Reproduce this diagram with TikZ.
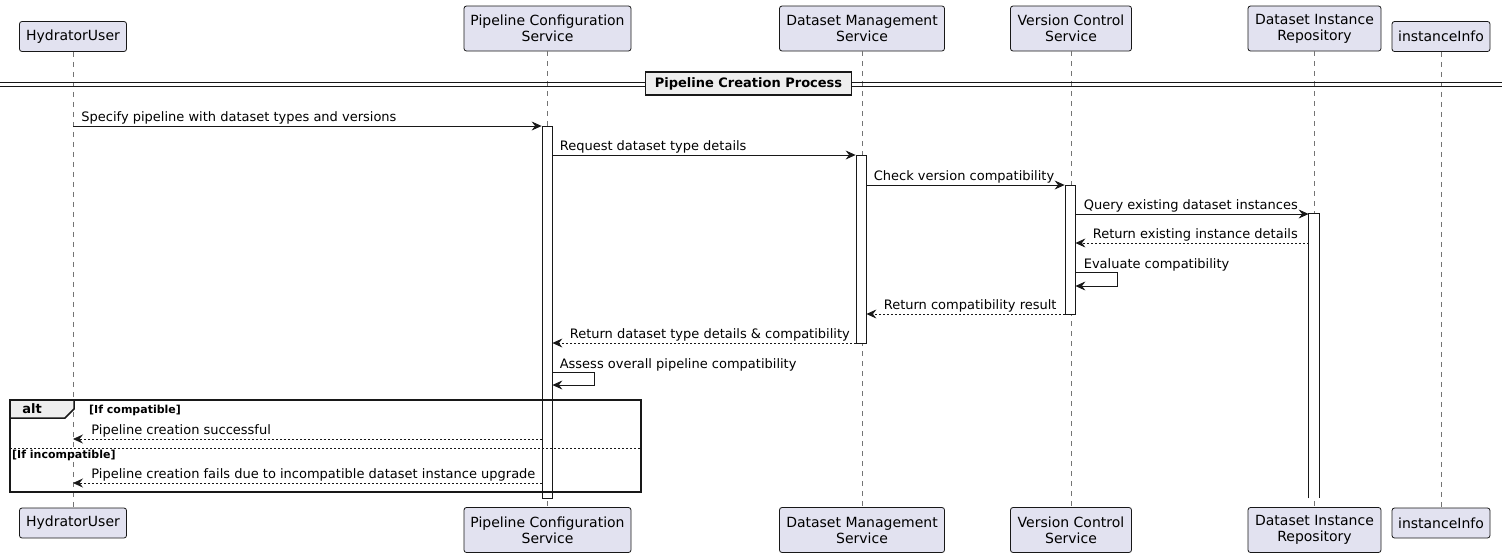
\documentclass[tikz,border=0pt]{standalone}
\usepackage{fontspec}
\setmainfont{DejaVu Sans}
\usetikzlibrary{arrows.meta}
\definecolor{partfill}{HTML}{E2E2F0}
\definecolor{partline}{HTML}{181818}
\definecolor{grpfill}{HTML}{EEEEEE}
\def\ytop{28.5}
\def\ybot{530}

\begin{document}
\begin{tikzpicture}[x=1pt,y=-1pt,
  participant/.style={draw=partline,fill=partfill,rounded corners=2.5pt,line width=0.8pt,
    align=center,inner sep=0pt,minimum height=45pt,font=\fontsize{14}{16}\selectfont},
  life/.style={partline!60,dash pattern=on 5pt off 5pt,line width=0.7pt},
  act/.style={draw=partline,fill=white,line width=0.8pt,minimum width=10pt,inner sep=0pt},
  msg/.style={-{Stealth[length=10pt,width=9pt,inset=3.5pt]},line width=0.8pt,partline},
  ret/.style={msg,dash pattern=on 2pt off 2pt},
  lbl/.style={anchor=base west,font=\fontsize{13}{15}\selectfont,inner sep=0pt,text=black,yshift=4.5pt},
  guard/.style={anchor=base west,font=\bfseries\fontsize{11}{13}\selectfont,inner sep=0pt}
]
        \useasboundingbox (0,0) rectangle (1502,558);
        %
        % participants, top and bottom
        \node[participant,minimum width=107pt,minimum height=30pt] (user) at (73,36.5) {HydratorUser};
        \node[participant,minimum width=167pt] (pcs) at (547.5,\ytop) {Pipeline Configuration\\Service};
        \node[participant,minimum width=165pt] (dms) at (862,\ytop) {Dataset Management\\Service};
        \node[participant,minimum width=121pt] (vcs) at (1071,\ytop) {Version Control\\Service};
        \node[participant,minimum width=133pt] (dir) at (1314.5,\ytop) {Dataset Instance\\Repository};
        \node[participant,minimum width=98pt,minimum height=30pt] (info) at (1441,36.5) {instanceInfo};
        %
        \node[participant,minimum width=107pt,minimum height=30pt] (userB) at (73,523) {HydratorUser};
        \node[participant,minimum width=167pt] (pcsB) at (547.5,\ybot) {Pipeline Configuration\\Service};
        \node[participant,minimum width=165pt] (dmsB) at (862,\ybot) {Dataset Management\\Service};
        \node[participant,minimum width=121pt] (vcsB) at (1071,\ybot) {Version Control\\Service};
        \node[participant,minimum width=133pt] (dirB) at (1314.5,\ybot) {Dataset Instance\\Repository};
        \node[participant,minimum width=98pt,minimum height=30pt] (infoB) at (1441,523) {instanceInfo};
        %
        % lifelines
        \draw[life] (user) -- (userB);
        \draw[life] (pcs) -- (pcsB);
        \draw[life] (dms) -- (dmsB);
        \draw[life] (vcs) -- (vcsB);
        \draw[life] (dir) -- (dirB);
        \draw[life] (info) -- (infoB);
        %
        % activations
        \node[act,minimum height=372pt] (aPCS) at (547,312) {};
        \node[act,minimum height=188pt] (aDMS) at (861,249) {};
        \node[act,minimum height=129pt] (aVCS) at (1070,249.5) {};
        \node[act,draw=none,minimum height=284pt] (aDIR) at (1314,356) {};
        \draw[partline,line width=0.8pt] (aDIR.south west) -- (aDIR.north west) -- (aDIR.north east) -- (aDIR.south east);
        %
        % divider
        \draw[partline,line width=0.8pt] (0,82) -- (1502,82);
        \draw[partline,line width=0.8pt] (0,86) -- (1502,86);
        \node[draw=partline,fill=grpfill,line width=1.5pt,minimum width=206pt,minimum height=23pt,inner sep=0pt,
          font=\bfseries\fontsize{13}{15}\selectfont] (phase) at (748.5,83.5) {Pipeline Creation Process};
        %
        % messages
        \draw[msg] (user |- 0,126) node[lbl,xshift=8pt] (m1) {Specify pipeline with dataset types and versions} -- (aPCS.west |- 0,126);
        \draw[msg] (aPCS.east |- 0,155) node[lbl,xshift=7pt] (m2) {Request dataset type details} -- (aDMS.west |- 0,155);
        \draw[msg] (aDMS.east |- 0,185) node[lbl,xshift=7pt] (m3) {Check version compatibility} -- (aVCS.west |- 0,185);
        \draw[msg] (aVCS.east |- 0,214) node[lbl,xshift=8pt] (m4) {Query existing dataset instances} -- (aDIR.west |- 0,214);
        \draw[ret] (aDIR.west |- 0,243) -- (aVCS.east |- 0,243) node[lbl,xshift=17pt] (m5) {Return existing instance details};
        \draw[msg] (aVCS.east |- 0,272) node[lbl,xshift=8pt,yshift=-1pt] (m6) {Evaluate compatibility} -- ++(42,0) -- ++(0,14) -- (aVCS.east |- 0,286);
        \draw[ret] (aVCS.west |- 0,314) -- (aDMS.east |- 0,314) node[lbl,xshift=17pt] (m7) {Return compatibility result};
        \draw[ret] (aDMS.west |- 0,343) -- (aPCS.east |- 0,343) node[lbl,xshift=17pt] (m8) {Return dataset type details \& compatibility};
        \draw[msg] (aPCS.east |- 0,372) node[lbl,xshift=7pt,yshift=-1pt] (m9) {Assess overall pipeline compatibility} -- ++(42,0) -- ++(0,13) -- (aPCS.east |- 0,385);
        %
        % alt fragment
        \draw[partline,line width=1.5pt] (10,400) rectangle (641,492);
        \filldraw[fill=grpfill,draw=partline,line width=1.5pt] (10,400) -- (74,400) -- (74,409) -- (65,418) -- (10,418) -- cycle;
        \node[font=\bfseries\fontsize{13}{15}\selectfont,inner sep=0pt] (altTag) at (32,409) {alt};
        \node[guard] (g1) at (89,413) {[If compatible]};
        \draw[partline,line width=0.8pt,dash pattern=on 2pt off 2pt] (10,448) -- (641,448);
        \node[guard] (g2) at (12,458) {[If incompatible]};
        \draw[ret] (aPCS.west |- 0,439) -- (user |- 0,439) node[lbl,xshift=18pt] (m10) {Pipeline creation successful};
        \draw[ret] (aPCS.west |- 0,483) -- (user |- 0,483) node[lbl,xshift=18pt] (m11) {Pipeline creation fails due to incompatible dataset instance upgrade};
      \end{tikzpicture}
\end{document}
